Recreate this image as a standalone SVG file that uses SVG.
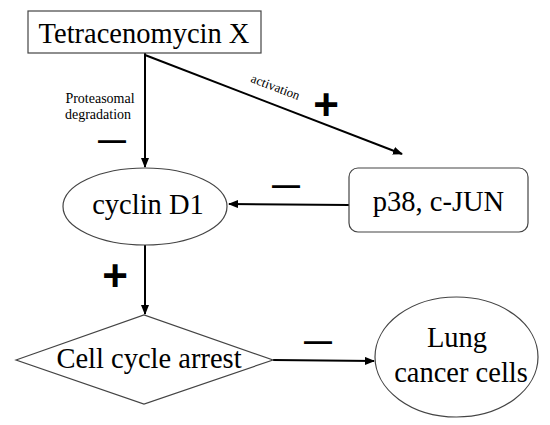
<svg xmlns="http://www.w3.org/2000/svg" width="550" height="425" viewBox="0 0 550 425">
<style>
.shape{fill:#fff;stroke:#444;stroke-width:1.2}
.lbl{font-family:"Liberation Serif","Times New Roman",serif;fill:#000;text-anchor:middle}
.big{font-size:28.5px}
.small{font-size:14px}
.sign{font-family:"Liberation Sans",Arial,sans-serif;font-weight:bold;fill:#000;text-anchor:middle}
.conn{fill:none;stroke:#000;stroke-width:2}
</style>
<defs>
<marker id="arr" markerUnits="userSpaceOnUse" markerWidth="10" markerHeight="8" viewBox="0 0 10 8" refX="9" refY="4" orient="auto">
<path d="M0,0 L10,4 L0,8 Z" fill="#000"/>
</marker>
</defs>
<rect width="550" height="425" fill="#fff"/>
<g id="connectors">
<path class="conn" d="M145,53 L145,167" marker-end="url(#arr)"/>
<path class="conn" d="M145,55 L402,154" marker-end="url(#arr)"/>
<path class="conn" d="M349,205 L229,204" marker-end="url(#arr)"/>
<path class="conn" d="M145,245 L145,314" marker-end="url(#arr)"/>
<path class="conn" d="M273,360 L374,361" marker-end="url(#arr)"/>
<text class="lbl small" x="100" y="103">Proteasomal</text>
<text class="lbl small" x="98" y="119">degradation</text>
<text class="lbl" style="font-size:13px" x="274" y="91" transform="rotate(21 274 91)">activation</text>
<text class="sign" style="font-size:28px" x="112" y="149">—</text>
<text class="sign" style="font-size:44px" x="326" y="120">+</text>
<text class="sign" style="font-size:28px" x="286" y="194">—</text>
<text class="sign" style="font-size:44px" x="115" y="291">+</text>
<text class="sign" style="font-size:28px" x="318" y="350">—</text>
</g>
<g id="tetracenomycin">
<rect class="shape" x="28" y="11" width="233" height="42"/>
<text class="lbl big" x="144" y="43">Tetracenomycin X</text>
</g>
<g id="cyclin">
<ellipse class="shape" cx="145" cy="206.5" rx="82" ry="38.5"/>
<text class="lbl big" x="148" y="214">cyclin D1</text>
</g>
<g id="p38">
<rect class="shape" x="349" y="168" width="179" height="64" rx="9"/>
<text class="lbl big" x="438.5" y="211">p38, c-JUN</text>
</g>
<g id="arrest">
<polygon class="shape" points="16,360 144,315 273,360 144,404"/>
<text class="lbl big" x="149" y="368">Cell cycle arrest</text>
</g>
<g id="lung">
<ellipse class="shape" cx="456.5" cy="357" rx="81.5" ry="60"/>
<text class="lbl big" x="457" y="347">Lung</text>
<text class="lbl big" x="461" y="382">cancer cells</text>
</g>
</svg>
